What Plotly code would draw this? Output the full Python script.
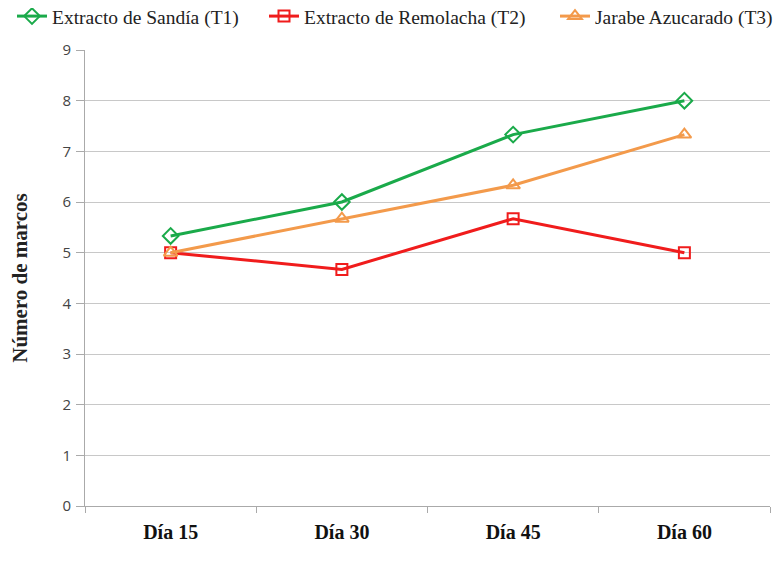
import plotly.graph_objects as go

categories = ["Día 15", "Día 30", "Día 45", "Día 60"]
t1_values = [5.33, 6.0, 7.33, 8.0]
t2_values = [5.0, 4.67, 5.67, 5.0]
t3_values = [5.0, 5.67, 6.33, 7.33]
series_names = ["Extracto de Sandía (T1)", "Extracto de Remolacha (T2)", "Jarabe Azucarado (T3)"]
y_ticks = [0, 1, 2, 3, 4, 5, 6, 7, 8, 9]

fig = go.Figure()
styles = [
    (t1_values, "#1aaa4a", "diamond-open", 12, "legend"),
    (t2_values, "#f01c1c", "square-open", 11, "legend2"),
    (t3_values, "#f39a4b", "triangle-up-open", 12, "legend3"),
]
for name, (vals, color, sym, size, leg) in zip(series_names, styles):
    fig.add_trace(go.Scatter(
        x=categories, y=vals, name=name, mode="lines+markers",
        line=dict(color=color, width=3),
        marker=dict(symbol=sym, size=size, color=color, line=dict(width=2, color=color)),
        legend=leg,
    ))

W, H = 783, 561
leg_font = dict(family="Liberation Serif", size=19.5, color="#222")
def leg(xpx):
    return dict(orientation="h", xref="container", yref="container",
                x=xpx / W, xanchor="left", y=0.985, yanchor="middle",
                font=leg_font, bgcolor="rgba(0,0,0,0)")

fig.update_layout(
    width=W, height=H,
    margin=dict(l=77, r=21, t=42, b=63, autoexpand=False),
    plot_bgcolor="white", paper_bgcolor="white",
    showlegend=True,
    legend=leg(4), legend2=leg(256), legend3=leg(547),
    xaxis=dict(
        range=[-0.5, 3.5], showgrid=False, showline=True, linecolor="#aaaaaa", linewidth=1,
        ticks="outside", tickson="boundaries", ticklen=6, tickcolor="#aaaaaa",
        tickfont=dict(family="Liberation Serif", size=20, color="#111"),
        ticklabelstandoff=8,
        zeroline=False, fixedrange=True, automargin=False,
    ),
    yaxis=dict(
        range=[0, 9], tickvals=y_ticks, showgrid=True, gridcolor="#c8c8c8", gridwidth=1,
        showline=True, linecolor="#aaaaaa", linewidth=1,
        ticks="outside", ticklen=8, tickcolor="#aaaaaa",
        tickfont=dict(family="Open Sans", size=15, color="#444"),
        ticklabelstandoff=2,
        title=dict(text="<b>Número de marcos</b>", font=dict(family="Liberation Serif", size=21, color="#222"), standoff=30),
        zeroline=False, automargin=False,
    ),
)
fig.update_xaxes(tickprefix="<b>", ticksuffix="</b>")
fig.write_html("out.html")
